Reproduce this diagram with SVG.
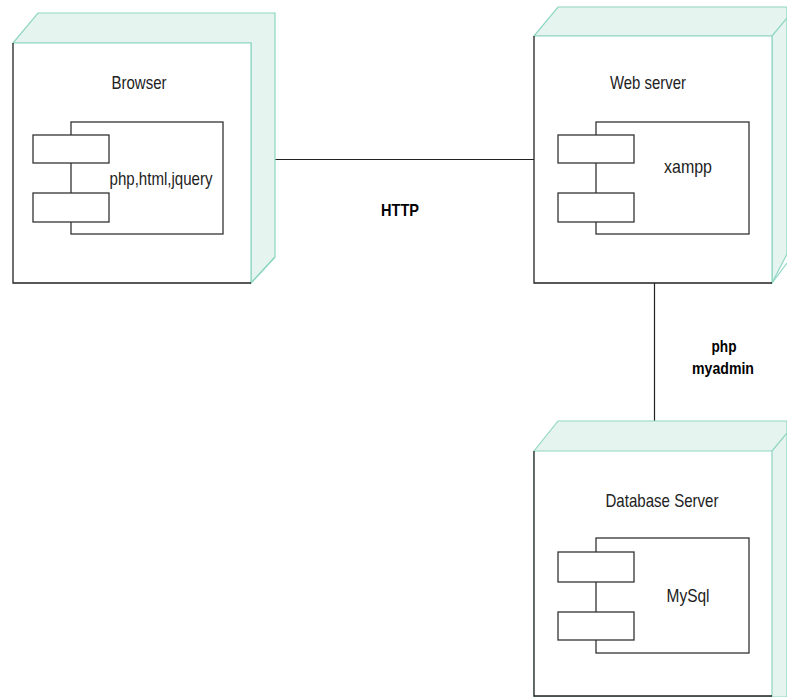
<svg xmlns="http://www.w3.org/2000/svg" width="787" height="697" viewBox="0 0 787 697">
<style>
.side{fill:#e6f4ef;stroke:#8ed6c2;stroke-width:1.2}
.front{fill:#ffffff;stroke:none}
.edge{fill:none;stroke:#222;stroke-width:1.3}
.comp{fill:#ffffff;stroke:#333;stroke-width:1.3}
.conn{fill:none;stroke:#222;stroke-width:1.2}
.t{font-family:"Liberation Sans Narrow","Liberation Sans",Arial,sans-serif;font-size:18.5px;fill:#222;text-anchor:middle}
.lb{font-family:"Liberation Sans Narrow","Liberation Sans",Arial,sans-serif;font-size:16.5px;font-weight:bold;fill:#000;text-anchor:middle}
</style>
<rect width="787" height="697" fill="#ffffff"/>
<g id="connectors">
<line class="conn" x1="275" y1="159.5" x2="534" y2="159.5"/>
<line class="conn" x1="654.5" y1="283" x2="654.5" y2="422"/>
<text class="lb" x="400" y="216" textLength="38" lengthAdjust="spacingAndGlyphs">HTTP</text>
<text class="lb" x="724" y="352" textLength="25" lengthAdjust="spacingAndGlyphs">php</text>
<text class="lb" x="723" y="374" textLength="62" lengthAdjust="spacingAndGlyphs">myadmin</text>
</g>
<g id="browser">
<polygon class="side" points="13,43 38,13 275,13 275,257 251,283 251,43"/>
<rect class="front" x="13" y="43" width="238" height="240"/>
<polyline class="side" style="fill:none" points="13,43 251,43 251,283 275,257"/>
<polyline class="edge" points="13,43 13,283 251,283"/>
<text class="t" x="139" y="89" textLength="55" lengthAdjust="spacingAndGlyphs">Browser</text>
<rect class="comp" x="71" y="122" width="152" height="112"/>
<rect class="comp" x="33" y="135" width="76" height="28"/>
<rect class="comp" x="33" y="193" width="76" height="29"/>
<text class="t" x="161" y="185" textLength="103" lengthAdjust="spacingAndGlyphs">php,html,jquery</text>
</g>
<g id="webserver">
<polygon class="side" points="534,36 558,7 787,7 787,254 772,283 772,36"/>
<rect class="front" x="534" y="36" width="238" height="247"/>
<polyline class="side" style="fill:none" points="534,36 772,36 772,283 787,263"/>
<polyline class="side" style="fill:none" points="772,36 787,18"/>
<polyline class="edge" points="534,36 534,283 772,283"/>
<text class="t" x="648" y="89" textLength="76" lengthAdjust="spacingAndGlyphs">Web server</text>
<rect class="comp" x="596" y="122" width="153" height="112"/>
<rect class="comp" x="558" y="135" width="76" height="28"/>
<rect class="comp" x="558" y="193" width="76" height="29"/>
<text class="t" x="688" y="173" textLength="48" lengthAdjust="spacingAndGlyphs">xampp</text>
</g>
<g id="dbserver">
<polygon class="side" points="534,451 558,421 787,421 787,697 534,697"/>
<rect class="front" x="534" y="451" width="238" height="245"/>
<polyline class="side" style="fill:none" points="534,451 772,451 772,697"/>
<polyline class="side" style="fill:none" points="772,451 787,433"/>
<polyline class="edge" points="534,451 534,696 772,696"/>
<text class="t" x="662" y="507" textLength="113" lengthAdjust="spacingAndGlyphs">Database Server</text>
<rect class="comp" x="596" y="538" width="153" height="115"/>
<rect class="comp" x="558" y="552" width="76" height="30"/>
<rect class="comp" x="558" y="612" width="76" height="28"/>
<text class="t" x="688" y="602" textLength="43" lengthAdjust="spacingAndGlyphs">MySql</text>
</g>
</svg>
